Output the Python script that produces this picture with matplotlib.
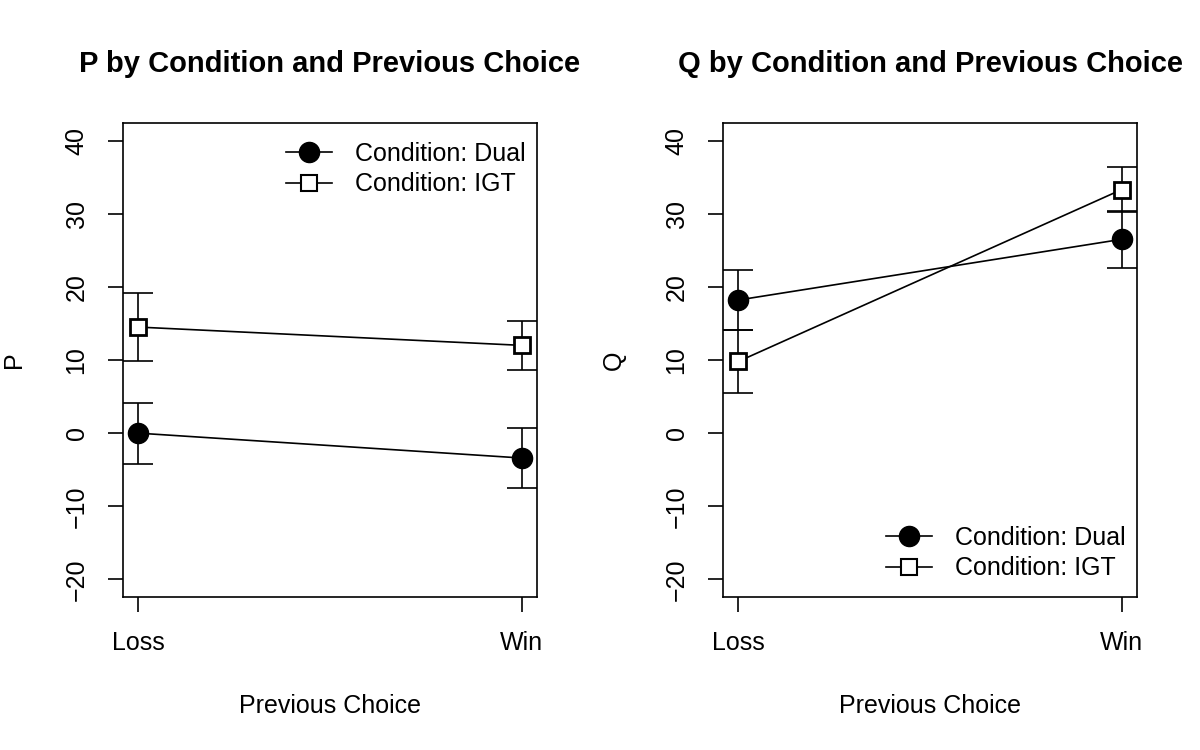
import matplotlib
matplotlib.use("Agg")
import matplotlib.pyplot as plt
from matplotlib.lines import Line2D
import numpy as np

plt.rcParams['font.family'] = ['Liberation Sans', 'DejaVu Sans']

# data
choices = ['Loss', 'Win']
p_dual = [0.0, -3.4]
p_dual_err = [4.15, 4.1]
p_igt = [14.5, 12.0]
p_igt_err = [4.6, 3.3]
q_dual = [18.2, 26.5]
q_dual_err = [4.1, 3.9]
q_igt = [9.8, 33.3]
q_igt_err = [4.3, 3.1]
yticks = [-20, -10, 0, 10, 20, 30, 40]

fig = plt.figure(figsize=(12, 7.5), dpi=100)
ax1 = fig.add_axes([0.1025, 0.204, 0.345, 0.632])
ax2 = fig.add_axes([0.6025, 0.204, 0.345, 0.632])

x = np.array([1, 2])
lw = 1.2
fs = 18

def panel(ax, dual, dual_err, igt, igt_err, name, legloc, anchor):
    # error bars first, then lines + markers on top
    for vals, err in [(dual, dual_err), (igt, igt_err)]:
        ax.errorbar(x, vals, yerr=err, fmt='none', ecolor='black',
                    elinewidth=lw, capsize=10.8, capthick=lw, zorder=2)
    ax.plot(x, dual, color='black', lw=lw, marker='o', markersize=14.5,
            markerfacecolor='black', markeredgecolor='black', zorder=3)
    ax.plot(x, igt, color='black', lw=lw, marker='s', markersize=11.5,
            markerfacecolor='white', markeredgecolor='black',
            markeredgewidth=2, zorder=3)
    ax.set_xlim(0.96, 2.04)
    ax.set_ylim(-22.4, 42.4)
    ax.set_xticks(x)
    ax.set_xticklabels(choices)
    ax.set_yticks(yticks)
    ax.set_yticklabels([str(v).replace('-', '\u2212') for v in yticks],
                       rotation=90, va='center')
    ax.tick_params(axis='both', length=10.8, width=lw, labelsize=fs, pad=14)
    for s in ax.spines.values():
        s.set_linewidth(lw)
    ax.set_xlabel('Previous Choice', fontsize=fs, labelpad=28)
    ax.set_ylabel(name, fontsize=fs, labelpad=28)
    ax.set_title(name + ' by Condition and Previous Choice', fontsize=21,
                 fontweight='bold', pad=37)
    handles = [
        Line2D([], [], color='black', lw=lw, marker='o', markersize=14.5,
               markerfacecolor='black'),
        Line2D([], [], color='black', lw=lw, marker='s', markersize=11.5,
               markerfacecolor='white', markeredgewidth=1.5),
    ]
    ax.legend(handles, ['Condition: Dual', 'Condition: IGT'], loc=legloc,
              bbox_to_anchor=anchor, frameon=False, fontsize=fs,
              handlelength=1.85, handletextpad=0.9, labelspacing=0.26,
              borderaxespad=0.3)

panel(ax1, p_dual, p_dual_err, p_igt, p_igt_err, 'P', 'upper right', (1.014, 0.997))
panel(ax2, q_dual, q_dual_err, q_igt, q_igt_err, 'Q', 'lower right', (1.014, -0.002))

fig.savefig('out.png', dpi=100)
